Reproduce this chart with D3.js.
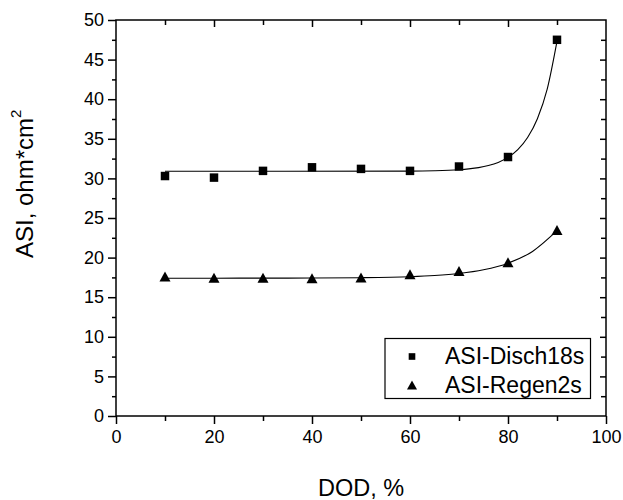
<!DOCTYPE html>
<html>
<head>
<meta charset="utf-8">
<script src="https://cdn.jsdelivr.net/npm/d3@7"></script>
<style>
  html, body { margin: 0; padding: 0; background: #fff; }
  svg { display: block; font-family: "Liberation Sans", Arial, sans-serif; }
</style>
</head>
<body>
<svg id="chart" width="623" height="500"></svg>
<script>
// ---- data ----
const dod = [10, 20, 30, 40, 50, 60, 70, 80, 90];
const dischValues = [30.3, 30.1, 30.95, 31.4, 31.2, 30.95, 31.5, 32.7, 47.5];
const regenValues = [17.6, 17.45, 17.45, 17.4, 17.5, 17.9, 18.3, 19.4, 23.5];

// fitted curves
const dischFitX = [10, 60, 65, 70, 72, 74, 76, 78, 80, 82, 84, 86, 88, 90];
const dischFitY = [30.9, 30.92, 30.96, 31.09, 31.2, 31.36, 31.62, 32.02, 32.65, 33.63, 35.16, 37.54, 41.26, 47.3];
const regenFitX = [10, 20, 30, 40, 50, 60, 65, 70, 75, 80, 85, 90];
const regenFitY = [17.4, 17.4, 17.41, 17.42, 17.46, 17.59, 17.74, 18.0, 18.47, 19.3, 20.78, 23.4];

const xMajorTicks = [0, 20, 40, 60, 80, 100];
const xMinorTicks = [10, 30, 50, 70, 90];
const yMajorTicks = [0, 5, 10, 15, 20, 25, 30, 35, 40, 45, 50];
const yMinorTicks = [2.5, 7.5, 12.5, 17.5, 22.5, 27.5, 32.5, 37.5, 42.5, 47.5];

const seriesNames = ["ASI-Disch18s", "ASI-Regen2s"];
const xTitle = "DOD, %";
const yTitle = "ASI, ohm*cm";
const yTitleSup = "2";

// ---- layout ----
const svg = d3.select("#chart");
const L = 116, R = 606, T = 20, B = 416;
const x = d3.scaleLinear().domain([0, 100]).range([L, R]);
const y = d3.scaleLinear().domain([0, 50]).range([B, T]);

const tickFont = 18;

function styleAxis(g) {
  g.select(".domain").remove();
  g.selectAll("line").attr("stroke", "#000").attr("stroke-width", 1.5);
  g.selectAll("text").attr("fill", "#000").attr("font-size", tickFont)
    .attr("font-family", "'Liberation Sans', Arial, sans-serif");
}

// bottom axis
svg.append("g").attr("transform", `translate(0,${B})`)
  .call(d3.axisBottom(x).tickValues(xMajorTicks).tickSize(8).tickPadding(6).tickFormat(d3.format("d")))
  .call(styleAxis);
svg.append("g").attr("transform", `translate(0,${B})`)
  .call(d3.axisBottom(x).tickValues(xMinorTicks).tickSize(5).tickFormat(""))
  .call(styleAxis);
// top axis (inward ticks)
svg.append("g").attr("transform", `translate(0,${T})`)
  .call(d3.axisBottom(x).tickValues(xMajorTicks.filter(v => v > 0 && v < 100)).tickSize(7).tickFormat(""))
  .call(styleAxis);
svg.append("g").attr("transform", `translate(0,${T})`)
  .call(d3.axisBottom(x).tickValues(xMinorTicks).tickSize(5).tickFormat(""))
  .call(styleAxis);
// left axis
svg.append("g").attr("transform", `translate(${L},0)`)
  .call(d3.axisLeft(y).tickValues(yMajorTicks).tickSize(8).tickPadding(4).tickFormat(d3.format("d")))
  .call(styleAxis);
svg.append("g").attr("transform", `translate(${L},0)`)
  .call(d3.axisLeft(y).tickValues(yMinorTicks).tickSize(4).tickFormat(""))
  .call(styleAxis);
// right axis (inward ticks)
svg.append("g").attr("transform", `translate(${R},0)`)
  .call(d3.axisLeft(y).tickValues(yMajorTicks.filter(v => v > 0 && v < 50)).tickSize(6).tickFormat(""))
  .call(styleAxis);
svg.append("g").attr("transform", `translate(${R},0)`)
  .call(d3.axisLeft(y).tickValues(yMinorTicks).tickSize(5).tickFormat(""))
  .call(styleAxis);

// frame
svg.append("rect").attr("x", L).attr("y", T).attr("width", R - L).attr("height", B - T)
  .attr("fill", "none").attr("stroke", "#000").attr("stroke-width", 1.5);

// fit curves
const line = d3.line().x(d => x(d[0])).y(d => y(d[1])).curve(d3.curveMonotoneX);
svg.append("path").datum(d3.zip(dischFitX, dischFitY))
  .attr("d", line).attr("fill", "none").attr("stroke", "#000").attr("stroke-width", 1.1);
svg.append("path").datum(d3.zip(regenFitX, regenFitY))
  .attr("d", line).attr("fill", "none").attr("stroke", "#000").attr("stroke-width", 1.1);

// markers
const square = d3.symbol().type(d3.symbolSquare).size(72);
function triPath(w, h) {
  return `M0,${-h/2}L${w/2},${h/2}L${-w/2},${h/2}Z`;
}
svg.append("g").selectAll("path").data(d3.zip(dod, dischValues)).join("path")
  .attr("transform", d => `translate(${x(d[0])},${y(d[1])})`)
  .attr("d", square).attr("fill", "#000");
svg.append("g").selectAll("path").data(d3.zip(dod, regenValues)).join("path")
  .attr("transform", d => `translate(${x(d[0])},${y(d[1])})`)
  .attr("d", triPath(11, 10)).attr("fill", "#000");

// legend
const lg = svg.append("g");
lg.append("rect").attr("x", 385).attr("y", 338.5).attr("width", 205.5).attr("height", 60)
  .attr("fill", "#fff").attr("stroke", "#000").attr("stroke-width", 1.2);
const legendSymbols = [d3.symbol().type(d3.symbolSquare).size(44)(), triPath(10, 9)];
seriesNames.forEach((name, i) => {
  const cy = 356.5 + i * 28.5;
  lg.append("path").attr("transform", `translate(412,${cy})`).attr("d", legendSymbols[i]).attr("fill", "#000");
  lg.append("text").attr("x", 445).attr("y", cy + 7.5).attr("font-size", 23).attr("fill", "#000")
    .text(name);
});

// axis titles
svg.append("text").attr("x", (L + R) / 2).attr("y", 496).attr("text-anchor", "middle")
  .attr("font-size", 23.5).attr("fill", "#000").text(xTitle);
const yt = svg.append("text").attr("transform", "translate(33,258) rotate(-90)")
  .attr("text-anchor", "start").attr("font-size", 24).attr("fill", "#000");
yt.append("tspan").text(yTitle);
yt.append("tspan").attr("font-size", 15).attr("dy", -12).text(yTitleSup);
</script>
</body>
</html>
